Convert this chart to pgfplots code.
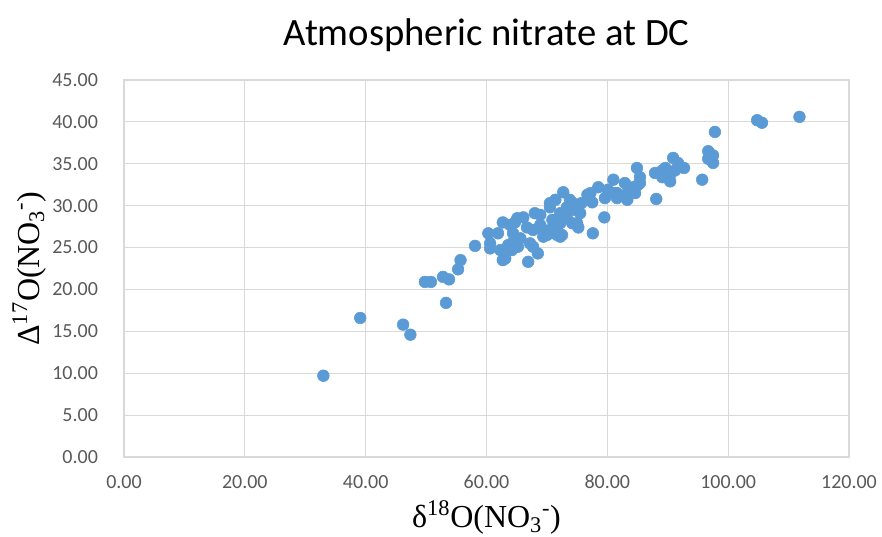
\documentclass[border=0pt]{standalone}
\usepackage{fontspec}
\setmainfont{Carlito}
\newfontfamily\seriffont{Liberation Serif}
\usepackage{pgfplots}
\pgfplotsset{compat=1.18}
\definecolor{dot}{HTML}{5B9BD5}
\definecolor{gridc}{HTML}{D9D9D9}
\definecolor{tickc}{HTML}{595959}
\begin{document}
\begin{tikzpicture}
\begin{axis}[
  scale only axis, width=543.75pt, height=282.75pt,
  xmin=0, xmax=120, ymin=0, ymax=45,
  xtick distance=20, ytick distance=5,
  grid=major, major grid style={gridc, line width=0.9pt},
  axis line style={gridc, line width=0.9pt},
  major tick length=0pt,
  tick label style={font=\fontsize{15}{17}\selectfont, text=tickc},
  /pgf/number format/fixed, /pgf/number format/fixed zerofill,
  /pgf/number format/precision=2, /pgf/number format/1000 sep={},
  /pgf/number format/assume math mode=true,
  yticklabel style={xshift=-16pt},
  xticklabel style={yshift=-10pt},
  title={Atmospheric nitrate at DC},
  title style={font=\fontsize{29}{34}\selectfont, yshift=12pt},
  xlabel={\seriffont δ\textsuperscript{18}O(NO\textsubscript{3}\textsuperscript{-})},
  ylabel={\seriffont Δ\textsuperscript{17}O(NO\textsubscript{3}\textsuperscript{-})},
  label style={font=\fontsize{24}{28}\selectfont},
  xlabel style={yshift=-2pt},
  ylabel style={yshift=-2pt},
]
\addplot[only marks, mark=*, mark size=4.4pt, mark options={fill=dot, draw=dot}] table {
x y
33.0 9.7
39.1 16.6
46.2 15.8
47.4 14.6
49.8 20.9
50.8 20.9
52.8 21.5
53.8 21.2
53.3 18.4
55.3 22.4
55.7 23.5
58.1 25.2
60.3 26.7
60.6 24.9
61.9 26.7
62.7 23.5
62.7 28.0
63.6 25.3
64.2 24.7
64.4 26.7
65.6 26.1
64.7 28.0
66.1 28.6
66.9 23.3
67.2 25.5
68.0 29.1
68.9 28.9
68.5 24.3
67.7 27.1
69.4 27.1
70.0 26.5
70.5 30.3
71.4 30.7
70.9 28.3
72.7 31.6
72.2 27.9
73.3 28.5
72.5 26.5
73.3 29.8
74.3 30.3
74.2 27.9
75.2 27.4
75.5 29.1
76.7 31.3
77.5 30.4
77.6 26.7
78.5 32.2
79.5 28.6
80.5 31.5
81.6 30.9
83.3 30.7
81.0 33.1
82.9 32.7
84.6 31.5
81.6 31.5
84.3 32.2
84.9 34.5
85.4 33.4
85.1 32.5
87.9 33.9
89.6 34.5
89.1 33.4
90.2 33.8
90.4 32.9
88.1 30.8
90.9 35.7
91.7 35.1
92.7 34.5
95.7 33.1
96.7 36.5
97.5 36.0
96.7 35.6
97.5 35.1
97.8 38.8
104.8 40.2
105.6 39.9
111.8 40.6
79.6 30.9
75.7 30.3
60.6 25.5
62.3 24.7
63.1 23.7
67.7 25.1
70.5 26.7
71.7 26.5
65.2 25.1
64.2 25.5
63.9 27.7
66.7 27.4
68.9 27.7
65.1 28.5
70.5 29.8
73.8 30.7
74.3 29.5
72.2 29.1
75.0 27.9
77.2 31.5
80.1 31.9
81.3 31.5
70.5 27.1
72.2 26.3
69.4 26.3
71.7 27.4
83.3 31.5
84.3 31.9
85.4 32.7
89.1 34.2
90.4 33.7
91.2 34.2
};
\coordinate (bl) at (rel axis cs:0,0);
\coordinate (tr) at (rel axis cs:1,1);
\end{axis}
\path (bl) ++(-93pt,-59.25pt) coordinate (BL);
\path (tr) ++(24.75pt,60pt) coordinate (TR);
\pgfresetboundingbox
\path[use as bounding box] (BL) rectangle (TR);
\end{tikzpicture}
\end{document}
